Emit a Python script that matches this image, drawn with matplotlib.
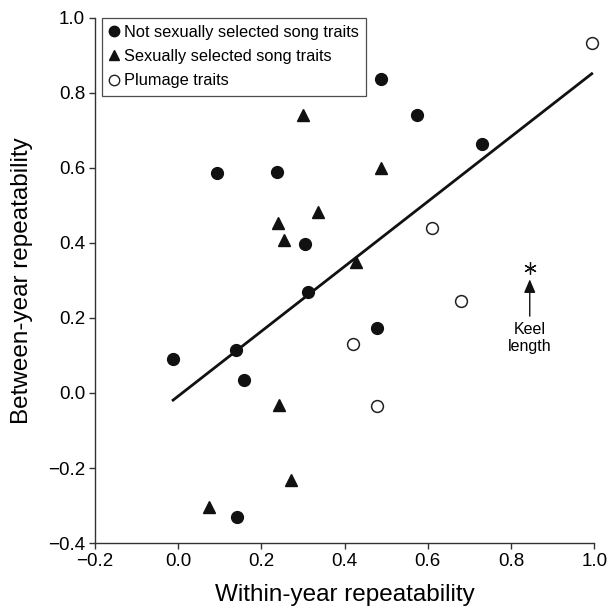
import matplotlib
matplotlib.use('Agg')
import matplotlib.pyplot as plt
from matplotlib.lines import Line2D

plt.rcParams['font.family'] = ['Liberation Sans', 'DejaVu Sans']

# not sexually selected song traits (filled circles)
song_x = [0.094, 0.238, 0.487, 0.574, 0.730, 0.305, 0.312, 0.139, -0.012, 0.158, 0.477, 0.141]
song_y = [0.587, 0.590, 0.837, 0.741, 0.664, 0.397, 0.269, 0.115, 0.091, 0.035, 0.173, -0.330]

# sexually selected song traits (filled triangles)
sexsel_x = [0.300, 0.487, 0.240, 0.336, 0.255, 0.427, 0.243, 0.272, 0.075]
sexsel_y = [0.741, 0.600, 0.453, 0.483, 0.408, 0.349, -0.032, -0.232, -0.304]

# plumage traits (open circles)
plum_x = [0.994, 0.610, 0.679, 0.420, 0.478]
plum_y = [0.933, 0.440, 0.245, 0.131, -0.036]

# keel length
keel_x = [0.845]
keel_y = [0.333]

# fitted line end points
line_x = [-0.012, 0.994]
line_y = [-0.019, 0.851]

fig = plt.figure(figsize=(6.12, 6.15), dpi=100)
ax = fig.add_axes([0.155, 0.117, 0.816, 0.854])

ax.plot(line_x, line_y, color='#111111', lw=2, zorder=1)
ax.plot(song_x, song_y, 'o', color='#111111', ms=8.5, zorder=3, clip_on=False)
ax.plot(sexsel_x, sexsel_y, '^', color='#111111', ms=8.5, zorder=3, clip_on=False)
ax.plot(plum_x, plum_y, 'o', mfc='white', mec='#222222', mew=1.1, ms=8.5, zorder=3, clip_on=False)
ax.plot(keel_x, keel_y, marker=(6, 2, 0), color='#111111', ms=9, mew=0.9, ls='none', zorder=3)

ax.annotate('Keel\nlength', xy=(0.845, 0.303), xytext=(0.845, 0.19),
            ha='center', va='top', fontsize=11.5, linespacing=1.2,
            arrowprops=dict(arrowstyle='-|>,head_length=0.7,head_width=0.3',
                            color='#111111', lw=1, shrinkA=2, shrinkB=0))

ax.set_xlim(-0.2, 1.0)
ax.set_ylim(-0.4, 1.0)
ax.set_xticks([-0.2, 0.0, 0.2, 0.4, 0.6, 0.8, 1.0])
ax.set_yticks([-0.4, -0.2, 0.0, 0.2, 0.4, 0.6, 0.8, 1.0])
ax.set_xticklabels(['\u22120.2', '0.0', '0.2', '0.4', '0.6', '0.8', '1.0'])
ax.set_yticklabels(['\u22120.4', '\u22120.2', '0.0', '0.2', '0.4', '0.6', '0.8', '1.0'])
ax.tick_params(direction='out', length=4, width=1, labelsize=13.5, color='#333333', pad=3)
for side in ['top', 'right']:
    ax.spines[side].set_visible(False)
for side in ['left', 'bottom']:
    ax.spines[side].set_color('#333333')
    ax.spines[side].set_linewidth(1)

ax.set_xlabel('Within-year repeatability', fontsize=17.5, labelpad=10)
ax.set_ylabel('Between-year repeatability', fontsize=17.5, labelpad=11)

handles = [
    Line2D([], [], marker='o', color='#111111', ls='none', ms=7.5),
    Line2D([], [], marker='^', color='#111111', ls='none', ms=7.5),
    Line2D([], [], marker='o', mfc='white', mec='#222222', ls='none', ms=7.5),
]
labels = ['Not sexually selected song traits', 'Sexually selected song traits', 'Plumage traits']
leg = ax.legend(handles, labels, loc='upper left', bbox_to_anchor=(0.014, 1.0),
                borderaxespad=0, fontsize=11.8, handlelength=0.6, handletextpad=0.3,
                labelspacing=0.55, borderpad=0.45, fancybox=False, frameon=True)
leg.get_frame().set_edgecolor('#222222')
leg.get_frame().set_linewidth(0.9)

fig.savefig('out.png', dpi=100)
